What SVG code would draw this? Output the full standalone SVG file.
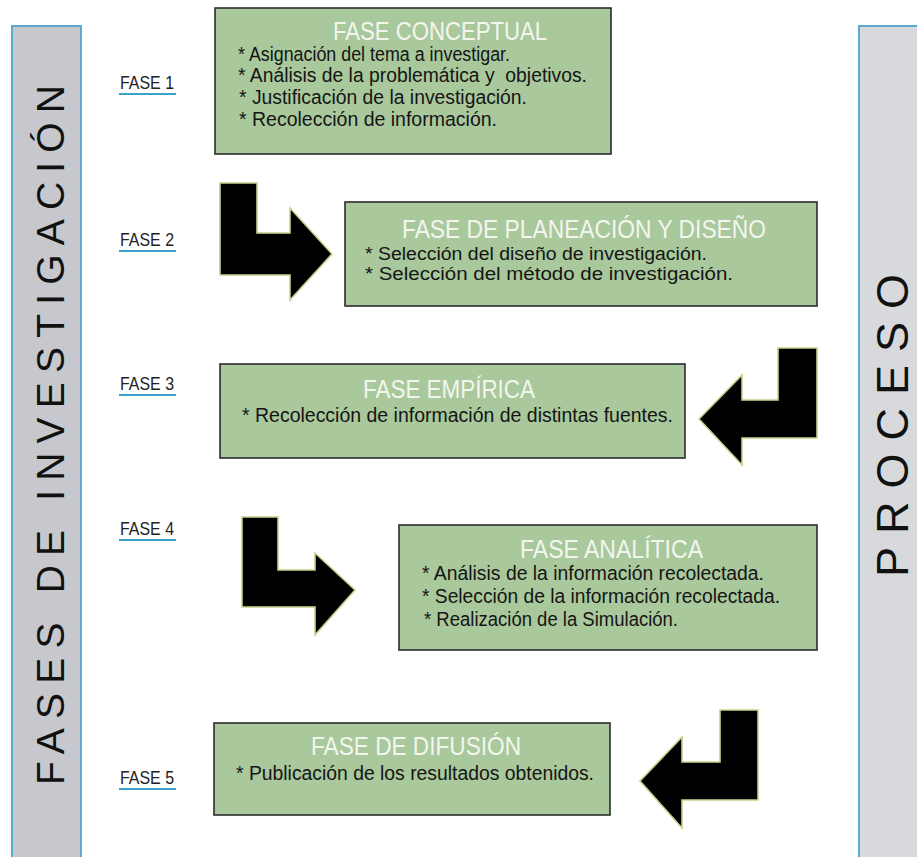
<svg xmlns="http://www.w3.org/2000/svg" width="917" height="857" viewBox="0 0 917 857">
<defs>
<style>
.bar{stroke:#5aaccf;stroke-width:2}
.box{fill:#a9c89b;stroke:#2b2b2b;stroke-width:1.6}
.title{font-family:"Liberation Sans","Open Sans",sans-serif;font-size:25px;fill:#f3f6ef}
.item{font-family:"Liberation Sans","Open Sans",sans-serif;font-size:19.5px;fill:#151515;white-space:pre}
.lbl{font-family:"Liberation Sans","Open Sans",sans-serif;font-size:19px;fill:#222}
.uline{stroke:#3aa0cc;stroke-width:2.2}
.side{font-family:"Liberation Sans","Open Sans",sans-serif;fill:#111}
.arrow{fill:#000;stroke:#c9cf8c;stroke-width:1.6;stroke-linejoin:miter}
</style>
</defs>
<rect width="917" height="857" fill="#ffffff"/>

<g id="bar-left">
<rect class="bar" x="12" y="26" width="69" height="840" fill="#c7c8cd"/>
<text class="side" font-size="39" transform="translate(64,785) rotate(-90)" textLength="700" lengthAdjust="spacing">FASES DE INVESTIGACIÓN</text>
</g>

<g id="bar-right">
<rect class="bar" x="859" y="26" width="70" height="840" fill="#d8d9dc"/>
<text class="side" font-size="45" transform="translate(908,577) rotate(-90)" textLength="303" lengthAdjust="spacing">PROCESO</text>
</g>

<g id="label-fase1">
<text class="lbl" x="120" y="89" textLength="54" lengthAdjust="spacingAndGlyphs">FASE 1</text>
<line class="uline" x1="119" y1="94" x2="176" y2="94"/>
</g>
<g id="label-fase2">
<text class="lbl" x="120" y="246" textLength="54" lengthAdjust="spacingAndGlyphs">FASE 2</text>
<line class="uline" x1="119" y1="251" x2="176" y2="251"/>
</g>
<g id="label-fase3">
<text class="lbl" x="120" y="390" textLength="54" lengthAdjust="spacingAndGlyphs">FASE 3</text>
<line class="uline" x1="119" y1="395" x2="176" y2="395"/>
</g>
<g id="label-fase4">
<text class="lbl" x="120" y="535" textLength="54" lengthAdjust="spacingAndGlyphs">FASE 4</text>
<line class="uline" x1="119" y1="540" x2="176" y2="540"/>
</g>
<g id="label-fase5">
<text class="lbl" x="120" y="784" textLength="54" lengthAdjust="spacingAndGlyphs">FASE 5</text>
<line class="uline" x1="119" y1="789" x2="176" y2="789"/>
</g>

<g id="node-conceptual">
<rect class="box" x="215" y="8" width="396" height="146"/>
<text class="title" x="333" y="40" textLength="214" lengthAdjust="spacingAndGlyphs">FASE CONCEPTUAL</text>
<text class="item" x="238" y="61" textLength="272" lengthAdjust="spacingAndGlyphs">* Asignación del tema a investigar.</text>
<text class="item" x="238" y="82" textLength="349" lengthAdjust="spacingAndGlyphs">* Análisis de la problemática y  objetivos.</text>
<text class="item" x="239" y="104" textLength="288" lengthAdjust="spacingAndGlyphs">* Justificación de la investigación.</text>
<text class="item" x="239" y="126" textLength="258" lengthAdjust="spacingAndGlyphs">* Recolección de información.</text>
</g>

<g id="node-planeacion">
<rect class="box" x="345" y="202" width="472" height="104"/>
<text class="title" x="402" y="238" textLength="364" lengthAdjust="spacingAndGlyphs">FASE DE PLANEACIÓN Y DISEÑO</text>
<text class="item" x="365" y="260" font-size="18" style="font-size:18px" textLength="342" lengthAdjust="spacingAndGlyphs">* Selección del diseño de investigación.</text>
<text class="item" x="365" y="280" font-size="18" style="font-size:18px" textLength="368" lengthAdjust="spacingAndGlyphs">* Selección del método de investigación.</text>
</g>

<g id="node-empirica">
<rect class="box" x="220" y="364" width="465" height="94"/>
<text class="title" x="363" y="398" textLength="172" lengthAdjust="spacingAndGlyphs">FASE EMPÍRICA</text>
<text class="item" x="242" y="422" textLength="431" lengthAdjust="spacingAndGlyphs">* Recolección de información de distintas fuentes.</text>
</g>

<g id="node-analitica">
<rect class="box" x="399" y="525" width="418" height="125"/>
<text class="title" x="520" y="558" textLength="183" lengthAdjust="spacingAndGlyphs">FASE ANALÍTICA</text>
<text class="item" x="422" y="580" textLength="342" lengthAdjust="spacingAndGlyphs">* Análisis de la información recolectada.</text>
<text class="item" x="422" y="603" textLength="358" lengthAdjust="spacingAndGlyphs">* Selección de la información recolectada.</text>
<text class="item" x="424" y="626" textLength="254" lengthAdjust="spacingAndGlyphs">* Realización de la Simulación.</text>
</g>

<g id="node-difusion">
<rect class="box" x="214" y="723" width="396" height="92"/>
<text class="title" x="311" y="755" textLength="210" lengthAdjust="spacingAndGlyphs">FASE DE DIFUSIÓN</text>
<text class="item" x="236" y="780" textLength="358" lengthAdjust="spacingAndGlyphs">* Publicación de los resultados obtenidos.</text>
</g>

<g id="connectors">
<path class="arrow" d="M220,183 L257,183 L257,233 L290,233 L290,208 L332,254 L290,300 L290,275 L220,275 Z"/>
<path class="arrow" d="M817,348 L778,348 L778,400 L742,400 L742,375 L699,419 L742,465 L742,438 L817,438 Z"/>
<path class="arrow" d="M242,517 L278,517 L278,570 L315,570 L315,553 L355,590 L315,635 L315,607 L242,607 Z"/>
<path class="arrow" d="M758,710 L720,710 L720,762 L682,762 L682,737 L640,781 L682,828 L682,800 L758,800 Z"/>
</g>
</svg>
